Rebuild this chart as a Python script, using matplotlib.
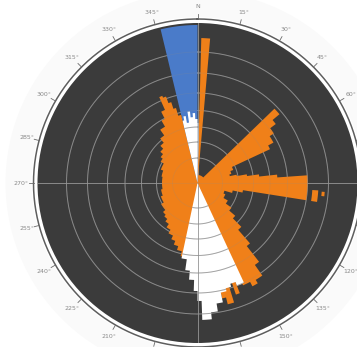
import numpy as np
import matplotlib
matplotlib.use("Agg")
import matplotlib.pyplot as plt

# radial unit: the dark disc has radius 160
r_max = 160
ring_radii = [25, 41, 56, 72.5, 90, 110, 131]
label_angles = list(range(0, 360, 15))
label_texts = ["N" if a == 0 else f"{a}°" for a in label_angles]

# blue sector (start deg, end deg, radius)
blue_start = [346.5]
blue_end = [360]
blue_r = [158]

# orange sectors
orange_start = [1.5, 5, 46, 50, 53, 57, 62, 65, 70, 75, 78, 80, 82, 84, 86,
                99, 102, 106, 112, 120, 126, 131, 135, 139, 142, 145, 149, 152,
                156, 159, 161, 163, 166, 168,
                189, 193, 197, 201, 205, 210, 215, 220, 225, 230, 240, 250, 260,
                280, 290, 300, 305, 310, 315, 320, 325, 330, 333, 336, 338, 340,
                342, 344]
orange_end = [5, 46, 50, 53, 57, 62, 65, 70, 75, 78, 80, 82, 84, 86, 99,
              102, 106, 112, 120, 126, 131, 135, 139, 142, 145, 149, 152, 156,
              159, 161, 163, 166, 168, 189,
              193, 197, 201, 205, 210, 215, 220, 225, 230, 240, 250, 260, 280,
              290, 300, 305, 310, 315, 320, 325, 330, 333, 336, 338, 340, 342,
              344, 346.5]
orange_r = [145, 8, 107, 98, 91, 86, 80, 38, 35, 33, 40, 50, 62, 80, 110,
            46, 36, 28, 30, 35, 42, 50, 62, 80, 100, 113, 117, 112,
            100, 118, 100, 125, 118, 60,
            75, 70, 66, 62, 58, 54, 50, 47, 45, 42, 39, 37, 35.5,
            36.5, 39, 42.5, 45, 48.5, 52.5, 58, 65, 72, 80, 94, 92, 85,
            78, 70]

# detached orange pieces east (start, end, inner, outer)
orange_pieces_start = [93.5, 94]
orange_pieces_end = [99, 96]
orange_pieces_in = [115, 124.5]
orange_pieces_out = [121, 127.5]

# white sectors
white_start = [346.5, 348, 350, 352, 354, 356, 358, 0,
               155, 159, 162, 165, 168, 171, 174, 178, 180, 182, 185, 188]
white_end = [348, 350, 352, 354, 356, 358, 360, 1.5,
             159, 162, 165, 168, 171, 174, 178, 180, 182, 185, 188, 192]
white_r = [64, 68, 61, 72, 66, 70, 64, 60,
           110, 106, 109, 112, 122, 130, 137, 118, 108, 97, 88, 77]

dark = "#3b3b3b"
orange = "#f08019"
blue = "#4a7bc9"
white = "#ffffff"
grid_c = "#9c9c9c"
text_c = "#8a8a8a"


def arc(a0, a1, r):
    n = max(int(abs(a1 - a0) * 4), 2)
    th = np.radians(np.linspace(a0, a1, n))
    return list(th), [r] * n


def sectors(ax, start, end, r, color):
    # merge touching sectors into one outline so no seams show
    segs = sorted(zip(start, end, r))
    runs = []
    for s in segs:
        if runs and abs(runs[-1][-1][1] - s[0]) < 1e-9:
            runs[-1].append(s)
        else:
            runs.append([s])
    patches = []
    for run in runs:
        th, rr = [np.radians(run[0][0])], [0]
        for s, e, v in run:
            t, q = arc(s, e, v)
            th += t
            rr += q
        th.append(np.radians(run[-1][1]))
        rr.append(0)
        patches += ax.fill(th, rr, color=color, lw=0, zorder=1)
    return patches


def pieces(ax, start, end, r_in, r_out, color):
    for s, e, a, b in zip(start, end, r_in, r_out):
        t1, q1 = arc(s, e, a)
        t2, q2 = arc(e, s, b)
        ax.fill(t1 + t2, q1 + q2, color=color, lw=0, zorder=1)


def grid(ax, color, lw, alpha, zorder, clip=None):
    t = np.linspace(0, 2 * np.pi, 600)
    lines = []
    for rr in ring_radii:
        lines += ax.plot(t, np.full_like(t, rr), color=color, lw=lw,
                         alpha=alpha, zorder=zorder)
    for a in [0, 90, 180, 270]:
        lines += ax.plot([np.radians(a)] * 2, [0, r_max], color=color, lw=lw,
                         alpha=alpha, zorder=zorder)
    if clip is not None:
        for ln in lines:
            ln.set_clip_path(clip)


fig = plt.figure(figsize=(3.57, 3.47), dpi=100)
cx, cy = 197.5 / 357, 1 - 183 / 347
w, h = 2 * r_max / 357, 2 * r_max / 347
ax = fig.add_axes([cx - w / 2, cy - h / 2, w, h], projection="polar")
ax.set_theta_zero_location("N")
ax.set_theta_direction(-1)
ax.set_facecolor(dark)
ax.grid(False)
ax.set_xticks([])
ax.set_yticks([])
ax.spines["polar"].set_visible(False)

# faint halo outside the disc
ax.bar(0, 26, width=2 * np.pi, bottom=166, color="#fafafa", linewidth=0,
       clip_on=False, zorder=0)

# rings under the sectors (seen on the dark ground)
grid(ax, grid_c, 0.7, 0.8, 0.5)

sectors(ax, blue_start, blue_end, blue_r, blue)
sectors(ax, orange_start, orange_end, orange_r, orange)
pieces(ax, orange_pieces_start, orange_pieces_end, orange_pieces_in,
       orange_pieces_out, orange)
white_patches = sectors(ax, white_start, white_end, white_r, white)

# faint rings across orange, clearer ones inside the white sectors
grid(ax, "#8c8c8c", 0.6, 0.2, 2)
for p in white_patches:
    grid(ax, "#8c8c8c", 0.7, 0.75, 2.1, clip=p)

# outer ring, ticks and labels
t = np.linspace(0, 2 * np.pi, 600)
ax.plot(t, np.full_like(t, 164), color="#5e5e5e", lw=1.1, clip_on=False,
        zorder=4)
for a, s in zip(label_angles, label_texts):
    th = np.radians(a)
    ax.plot([th, th], [164, 169], color="#6a6a6a", lw=0.6, clip_on=False,
            zorder=4)
    ax.text(th, 177, s, fontsize=4.5, color=text_c, ha="center", va="center",
            clip_on=False)

ax.set_ylim(0, r_max)
fig.savefig("out.png", dpi=100)
